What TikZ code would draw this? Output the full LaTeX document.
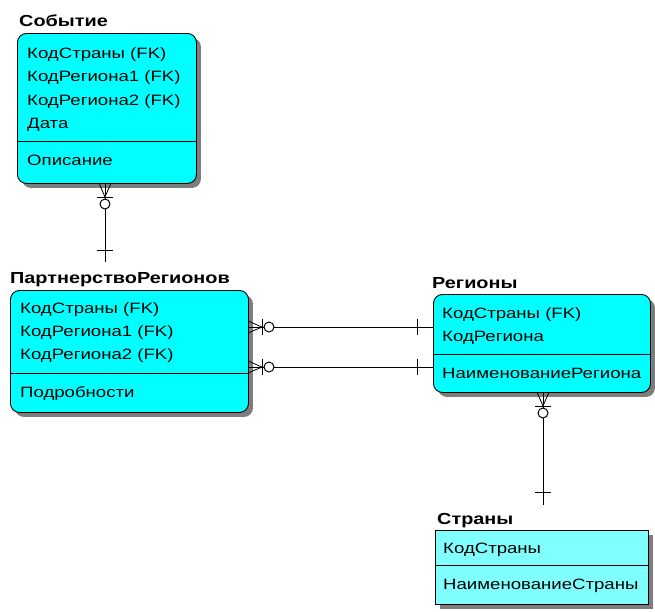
\documentclass[tikz,border=0pt]{standalone}
\usepackage{fontspec}
\setmainfont{Liberation Sans}[FakeStretch=1.24]
\usetikzlibrary{shadows}
\definecolor{boxcyan}{RGB}{0,255,255}
\definecolor{lightcyan}{RGB}{128,255,255}
\definecolor{shadowgray}{RGB}{125,125,125}
\tikzset{
  ent/.style={draw=black, line width=0.9pt, fill=boxcyan, rounded corners=9pt,
    drop shadow={shadow xshift=4.5pt, shadow yshift=-4.5pt, fill=shadowgray, opacity=1},
    inner sep=0pt, anchor=north west},
  entsq/.style={ent, rounded corners=0pt, fill=lightcyan},
  rowtext/.style={anchor=base west, inner sep=0pt},
  titletext/.style={anchor=base west, inner sep=0pt, font=\fontsize{16}{18}\selectfont\bfseries},
  divline/.style={draw=black, line width=0.9pt},
  conn/.style={draw=black, line width=1pt},
  foot/.style={draw=black, line width=0.8pt},
  crowzero/.pic={
    \draw[foot] (0,-6) -- (14,0) -- (0,6);
    \draw[conn] (14,-8) -- (14,8);
    \draw[conn, fill=white] (21,0) circle[radius=5];
  },
  onebar/.pic={
    \draw[conn] (0,-8) -- (0,8);
  }
}
\begin{document}
\begin{tikzpicture}[x=1pt, y=-1pt, font=\fontsize{15}{18}\selectfont]
\useasboundingbox (0,0) rectangle (655,611);

% ---------- Событие ----------
\node[titletext] (tsob) at (19,26) {Событие};
\node[ent, minimum width=179pt, minimum height=150pt] (sob) at (17,33) {};
\draw[divline] (17,141) -- (196,141);
\node[rowtext] (sob1) at (27,58) {КодСтраны (FK)};
\node[rowtext] (sob2) at (27,81.5) {КодРегиона1 (FK)};
\node[rowtext] (sob3) at (27,105) {КодРегиона2 (FK)};
\node[rowtext] (sob4) at (27,128.5) {Дата};
\node[rowtext] (sob5) at (27,165) {Описание};

% ---------- ПартнерствоРегионов ----------
\node[titletext] (tpr) at (10,283) {ПартнерствоРегионов};
\node[ent, minimum width=238pt, minimum height=122pt] (pr) at (10,290) {};
\draw[divline] (10,373) -- (248,373);
\node[rowtext] (pr1) at (20,313) {КодСтраны (FK)};
\node[rowtext] (pr2) at (20,336) {КодРегиона1 (FK)};
\node[rowtext] (pr3) at (20,359) {КодРегиона2 (FK)};
\node[rowtext] (pr4) at (20,397) {Подробности};

% ---------- Регионы ----------
\node[titletext] (treg) at (432,288) {Регионы};
\node[ent, minimum width=217pt, minimum height=98pt] (reg) at (433,294) {};
\draw[divline] (433,354) -- (650,354);
\node[rowtext] (reg1) at (442,318) {КодСтраны (FK)};
\node[rowtext] (reg2) at (442,341) {КодРегиона};
\node[rowtext] (reg3) at (442,378) {НаименованиеРегиона};

% ---------- Страны ----------
\node[titletext] (tstr) at (437,524) {Страны};
\node[entsq, minimum width=213pt, minimum height=74pt] (str) at (435,530) {};
\draw[divline] (435,565) -- (648,565);
\node[rowtext] (str1) at (443,553) {КодСтраны};
\node[rowtext] (str2) at (443,589) {НаименованиеСтраны};

% ---------- connector coordinates ----------
\coordinate (c1a) at (105,183);
\coordinate (c1b) at (105,262);
\coordinate (c2a) at (248,327);
\coordinate (c2b) at (433,327);
\coordinate (c3a) at (248,367);
\coordinate (c3b) at (433,367);
\coordinate (c4a) at (543,392);
\coordinate (c4b) at (543,505);

% ---------- connectors ----------
\draw[conn] (c1a) -- (c1b);
\draw[conn] (c2a) -- (c2b);
\draw[conn] (c3a) -- (c3b);
\draw[conn] (c4a) -- (c4b);

\pic[rotate=-90] at (c1a) {crowzero};
\pic at (c2a) {crowzero};
\pic at (c3a) {crowzero};
\pic[rotate=-90] at (c4a) {crowzero};

\pic[rotate=90] at (105,250) {onebar};
\pic at (417,327) {onebar};
\pic at (417,367) {onebar};
\pic[rotate=90] at (543,492) {onebar};
\end{tikzpicture}
\end{document}
